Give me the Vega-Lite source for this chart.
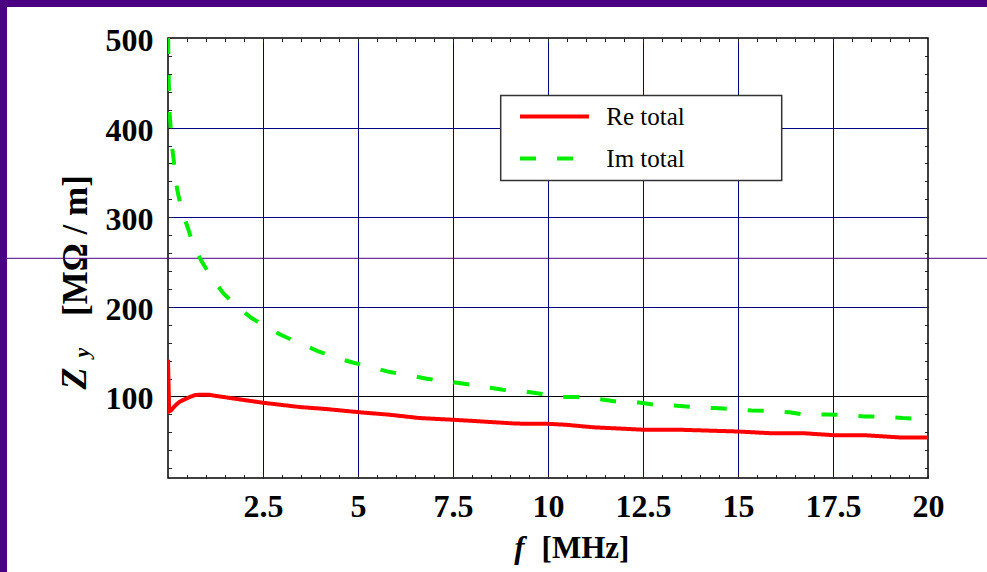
{
  "$schema": "https://vega.github.io/schema/vega-lite/v6.json",
  "width": 760,
  "height": 440,
  "autosize": {"type": "none"},
  "padding": {"left": 168, "top": 38, "right": 59, "bottom": 94},
  "background": "white",
  "config": {
    "font": "Liberation Serif",
    "view": {"stroke": "black", "strokeWidth": 1.5},
    "axis": {"labelFont": "Liberation Serif", "titleFont": "Liberation Serif", "labelColor": "black", "titleColor": "black", "tickColor": "#222222", "domain": false}
  },
  "resolve": {"axis": {"x": "independent", "y": "independent"}},
  "layer": [
    {
      "data": {"values": [{}]},
      "mark": {"type": "rect", "color": "#4b0082", "clip": false},
      "encoding": {
        "x": {"datum": -5, "type": "quantitative", "scale": {"domain": [0, 20], "nice": false, "zero": false}, "axis": null},
        "x2": {"datum": -4.237},
        "y": {"datum": -130, "type": "quantitative", "scale": {"domain": [9, 500], "nice": false, "zero": false}, "axis": null},
        "y2": {"datum": 545}
      }
    },
    {
      "data": {"values": [{}]},
      "mark": {"type": "rect", "color": "#4b0082", "clip": false},
      "encoding": {
        "x": {"datum": -5, "type": "quantitative", "scale": {"domain": [0, 20], "nice": false, "zero": false}, "axis": null},
        "x2": {"datum": 23},
        "y": {"datum": 534.59, "type": "quantitative", "scale": {"domain": [9, 500], "nice": false, "zero": false}, "axis": null},
        "y2": {"datum": 545}
      }
    },
    {
      "data": {"values": [{}]},
      "mark": {"type": "rule", "color": "#4b0082", "strokeWidth": 1, "clip": false},
      "encoding": {
        "x": {"datum": -4.237, "type": "quantitative", "scale": {"domain": [0, 20], "nice": false, "zero": false}, "axis": null},
        "x2": {"datum": 23},
        "y": {"datum": 254.16, "type": "quantitative", "scale": {"domain": [9, 500], "nice": false, "zero": false}, "axis": null}
      }
    },
    {
      "data": {"values": [
        {"series": "Re total", "f": 0, "z": 141},
        {"series": "Re total", "f": 0.03, "z": 83.4},
        {"series": "Re total", "f": 0.08, "z": 84.5},
        {"series": "Re total", "f": 0.14, "z": 87.4},
        {"series": "Re total", "f": 0.22, "z": 91},
        {"series": "Re total", "f": 0.31, "z": 94.2},
        {"series": "Re total", "f": 0.45, "z": 97},
        {"series": "Re total", "f": 0.57, "z": 99.3},
        {"series": "Re total", "f": 0.71, "z": 101.5},
        {"series": "Re total", "f": 0.85, "z": 102},
        {"series": "Re total", "f": 1.1, "z": 101.8},
        {"series": "Re total", "f": 1.2, "z": 101},
        {"series": "Re total", "f": 1.6, "z": 98.5},
        {"series": "Re total", "f": 2.0, "z": 96},
        {"series": "Re total", "f": 2.5, "z": 93},
        {"series": "Re total", "f": 3.0, "z": 90.5},
        {"series": "Re total", "f": 3.47, "z": 88.2},
        {"series": "Re total", "f": 4.18, "z": 85.9},
        {"series": "Re total", "f": 5.0, "z": 82.5},
        {"series": "Re total", "f": 5.83, "z": 79.6},
        {"series": "Re total", "f": 6.62, "z": 75.9},
        {"series": "Re total", "f": 7.5, "z": 74},
        {"series": "Re total", "f": 8.3, "z": 72},
        {"series": "Re total", "f": 9.17, "z": 69.7},
        {"series": "Re total", "f": 10.0, "z": 69.5},
        {"series": "Re total", "f": 10.5, "z": 68.3},
        {"series": "Re total", "f": 11.19, "z": 65.6},
        {"series": "Re total", "f": 12.5, "z": 62.9},
        {"series": "Re total", "f": 13.42, "z": 62.9},
        {"series": "Re total", "f": 15.0, "z": 60.9},
        {"series": "Re total", "f": 15.84, "z": 59},
        {"series": "Re total", "f": 16.71, "z": 59},
        {"series": "Re total", "f": 17.5, "z": 56.8},
        {"series": "Re total", "f": 18.39, "z": 56.6},
        {"series": "Re total", "f": 19.25, "z": 54.3},
        {"series": "Re total", "f": 20, "z": 54.2},
        {"series": "Im total", "f": 0.003, "z": 500},
        {"series": "Im total", "f": 0.012, "z": 470},
        {"series": "Im total", "f": 0.025, "z": 440},
        {"series": "Im total", "f": 0.045, "z": 415},
        {"series": "Im total", "f": 0.07, "z": 400},
        {"series": "Im total", "f": 0.1, "z": 381},
        {"series": "Im total", "f": 0.15, "z": 364},
        {"series": "Im total", "f": 0.2, "z": 341},
        {"series": "Im total", "f": 0.27, "z": 325},
        {"series": "Im total", "f": 0.4, "z": 302},
        {"series": "Im total", "f": 0.5, "z": 291},
        {"series": "Im total", "f": 0.6, "z": 278},
        {"series": "Im total", "f": 0.7, "z": 266},
        {"series": "Im total", "f": 0.88, "z": 251},
        {"series": "Im total", "f": 1.19, "z": 230},
        {"series": "Im total", "f": 1.46, "z": 215},
        {"series": "Im total", "f": 1.81, "z": 200.4},
        {"series": "Im total", "f": 2.2, "z": 187.5},
        {"series": "Im total", "f": 2.64, "z": 176},
        {"series": "Im total", "f": 3.02, "z": 167.7},
        {"series": "Im total", "f": 3.52, "z": 158.5},
        {"series": "Im total", "f": 3.96, "z": 150.2},
        {"series": "Im total", "f": 4.44, "z": 142.9},
        {"series": "Im total", "f": 4.86, "z": 137.9},
        {"series": "Im total", "f": 5.43, "z": 131.7},
        {"series": "Im total", "f": 5.84, "z": 127.2},
        {"series": "Im total", "f": 6.41, "z": 123.1},
        {"series": "Im total", "f": 6.81, "z": 119.8},
        {"series": "Im total", "f": 7.38, "z": 116.7},
        {"series": "Im total", "f": 7.8, "z": 114.2},
        {"series": "Im total", "f": 8.34, "z": 110.5},
        {"series": "Im total", "f": 8.82, "z": 107.5},
        {"series": "Im total", "f": 9.39, "z": 105.6},
        {"series": "Im total", "f": 9.8, "z": 103},
        {"series": "Im total", "f": 10.36, "z": 99.3},
        {"series": "Im total", "f": 10.8, "z": 99.3},
        {"series": "Im total", "f": 11.35, "z": 97.1},
        {"series": "Im total", "f": 11.8, "z": 94.4},
        {"series": "Im total", "f": 12.33, "z": 93.5},
        {"series": "Im total", "f": 12.8, "z": 90.9},
        {"series": "Im total", "f": 13.4, "z": 89.6},
        {"series": "Im total", "f": 13.8, "z": 88.2},
        {"series": "Im total", "f": 14.4, "z": 87},
        {"series": "Im total", "f": 14.8, "z": 85.9},
        {"series": "Im total", "f": 15.36, "z": 84.4},
        {"series": "Im total", "f": 15.8, "z": 84},
        {"series": "Im total", "f": 16.35, "z": 82.4},
        {"series": "Im total", "f": 16.7, "z": 80},
        {"series": "Im total", "f": 17.33, "z": 79.9},
        {"series": "Im total", "f": 17.8, "z": 79.6},
        {"series": "Im total", "f": 18.34, "z": 77.7},
        {"series": "Im total", "f": 18.8, "z": 77.7},
        {"series": "Im total", "f": 19.33, "z": 75.9},
        {"series": "Im total", "f": 19.8, "z": 75.1},
        {"series": "Im total", "f": 20, "z": 75}
      ]},
      "mark": {"type": "line", "strokeWidth": 4, "clip": true},
      "encoding": {
        "x": {
          "field": "f", "type": "quantitative",
          "scale": {"domain": [0, 20], "nice": false, "zero": false},
          "axis": {
            "orient": "bottom",
            "values": [0.5,1,1.5,2,2.5,3,3.5,4,4.5,5,5.5,6,6.5,7,7.5,8,8.5,9,9.5,10,10.5,11,11.5,12,12.5,13,13.5,14,14.5,15,15.5,16,16.5,17,17.5,18,18.5,19,19.5,20],
            "labelExpr": "datum.value % 2.5 === 0 ? format(datum.value, '~g') : ''",
            "labelFontSize": 32, "labelFontWeight": "bold", "labelPadding": 17,
            "labelOverlap": false, "labelFlush": false, "labelBound": false,
            "ticks": true, "tickSize": -3.5, "tickWidth": 1,
            "grid": true, "gridColor": "#000080", "gridWidth": 1,
            "gridOpacity": {"condition": {"test": "datum.value % 2.5 === 0 && datum.value > 0 && datum.value < 20", "value": 1}, "value": 0},
            "domain": false,
            "title": "[MHz]", "titleFontSize": 31, "titleFontWeight": "bold",
            "titleX": 417, "titleY": 79, "titleAlign": "center", "titleBaseline": "alphabetic", "titleAngle": 0
          }
        },
        "y": {
          "field": "z", "type": "quantitative",
          "scale": {"domain": [9, 500], "nice": false, "zero": false},
          "axis": {
            "orient": "left",
            "values": [20,40,60,80,100,120,140,160,180,200,220,240,260,280,300,320,340,360,380,400,420,440,460,480,500],
            "labelExpr": "datum.value % 100 === 0 ? format(datum.value, 'd') : ''",
            "labelFontSize": 32, "labelFontWeight": "bold", "labelPadding": 18.5, "labelOffset": 2.5,
            "labelOverlap": false, "labelFlush": false, "labelBound": false,
            "ticks": true, "tickSize": -3.5, "tickWidth": 1,
            "grid": true, "gridWidth": 1,
            "gridColor": {"condition": {"test": "datum.value === 100", "value": "black"}, "value": "#000080"},
            "gridOpacity": {"condition": {"test": "datum.value % 100 === 0 && datum.value < 500", "value": 1}, "value": 0},
            "domain": false,
            "title": "[MΩ / m]", "titleFontSize": 35, "titleFontWeight": "bold",
            "titleX": -82, "titleY": 207, "titleAlign": "center", "titleBaseline": "alphabetic", "titleAngle": 270
          }
        },
        "color": {
          "field": "series", "type": "nominal",
          "scale": {"domain": ["Re total", "Im total"], "range": ["#ff0000", "#00ee00"]},
          "legend": {
            "title": ".", "titleOrient": "right", "titleColor": "white", "titleFontSize": 8, "titlePadding": 86,
            "orient": "none", "legendX": 332.7, "legendY": 57.5, "direction": "vertical",
            "symbolType": "stroke", "symbolSize": 4761, "symbolStrokeWidth": 4, "symbolOffset": 8.3,
            "labelOffset": 15.3, "labelFontSize": 25, "labelFont": "Liberation Serif", "labelColor": "black",
            "labelLimit": 0,
            "clipHeight": 24, "rowPadding": 17, "padding": 9,
            "fillColor": "white", "strokeColor": "#333333",
            "encode": {"legend": {"update": {"strokeWidth": {"value": 1.5}}}}
          }
        },
        "strokeDash": {
          "field": "series", "type": "nominal",
          "scale": {"domain": ["Re total", "Im total"], "range": [[1, 0], [16, 21]]}
        }
      }
    },
    {
      "data": {"values": [{}]},
      "mark": {"type": "point", "opacity": 0},
      "encoding": {
        "x": {
          "datum": 10, "type": "quantitative",
          "scale": {"domain": [0, 20], "nice": false, "zero": false},
          "axis": {
            "orient": "top",
            "values": [0.5,1,1.5,2,2.5,3,3.5,4,4.5,5,5.5,6,6.5,7,7.5,8,8.5,9,9.5,10,10.5,11,11.5,12,12.5,13,13.5,14,14.5,15,15.5,16,16.5,17,17.5,18,18.5,19,19.5],
            "labels": false, "ticks": true, "tickSize": -3.5, "tickWidth": 1, "grid": false, "domain": false, "title": null
          }
        },
        "y": {
          "datum": 250, "type": "quantitative",
          "scale": {"domain": [9, 500], "nice": false, "zero": false},
          "axis": {
            "orient": "right",
            "values": [20,40,60,80,100,120,140,160,180,200,220,240,260,280,300,320,340,360,380,400,420,440,460,480],
            "labels": false, "ticks": true, "tickSize": -3.5, "tickWidth": 1, "grid": false, "domain": false, "title": null
          }
        }
      }
    },
    {
      "data": {"values": [{}]},
      "mark": {"type": "point", "opacity": 0},
      "encoding": {
        "x": {
          "datum": 10, "type": "quantitative",
          "scale": {"domain": [0, 20], "nice": false, "zero": false},
          "axis": {
            "orient": "bottom", "labels": false, "ticks": false, "grid": false, "domain": false,
            "title": "f", "titleFontSize": 31, "titleFontWeight": "bold", "titleFontStyle": "italic",
            "titleX": 351, "titleY": 79, "titleAlign": "center", "titleBaseline": "alphabetic", "titleAngle": 0
          }
        },
        "y": {
          "datum": 250, "type": "quantitative",
          "scale": {"domain": [9, 500], "nice": false, "zero": false},
          "axis": {
            "orient": "left", "labels": false, "ticks": false, "grid": false, "domain": false,
            "title": "Z", "titleFontSize": 36, "titleFontWeight": "bold", "titleFontStyle": "italic",
            "titleX": -83, "titleY": 340, "titleAlign": "center", "titleBaseline": "alphabetic", "titleAngle": 270
          }
        }
      }
    },
    {
      "data": {"values": [{}]},
      "mark": {"type": "point", "opacity": 0},
      "encoding": {
        "x": {"datum": 10, "type": "quantitative", "scale": {"domain": [0, 20], "nice": false, "zero": false}, "axis": null},
        "y": {
          "datum": 250, "type": "quantitative",
          "scale": {"domain": [9, 500], "nice": false, "zero": false},
          "axis": {
            "orient": "left", "labels": false, "ticks": false, "grid": false, "domain": false,
            "title": "y", "titleFontSize": 22, "titleFontWeight": "bold", "titleFontStyle": "italic",
            "titleX": -80, "titleY": 314, "titleAlign": "center", "titleBaseline": "alphabetic", "titleAngle": 270
          }
        }
      }
    }
  ]
}
